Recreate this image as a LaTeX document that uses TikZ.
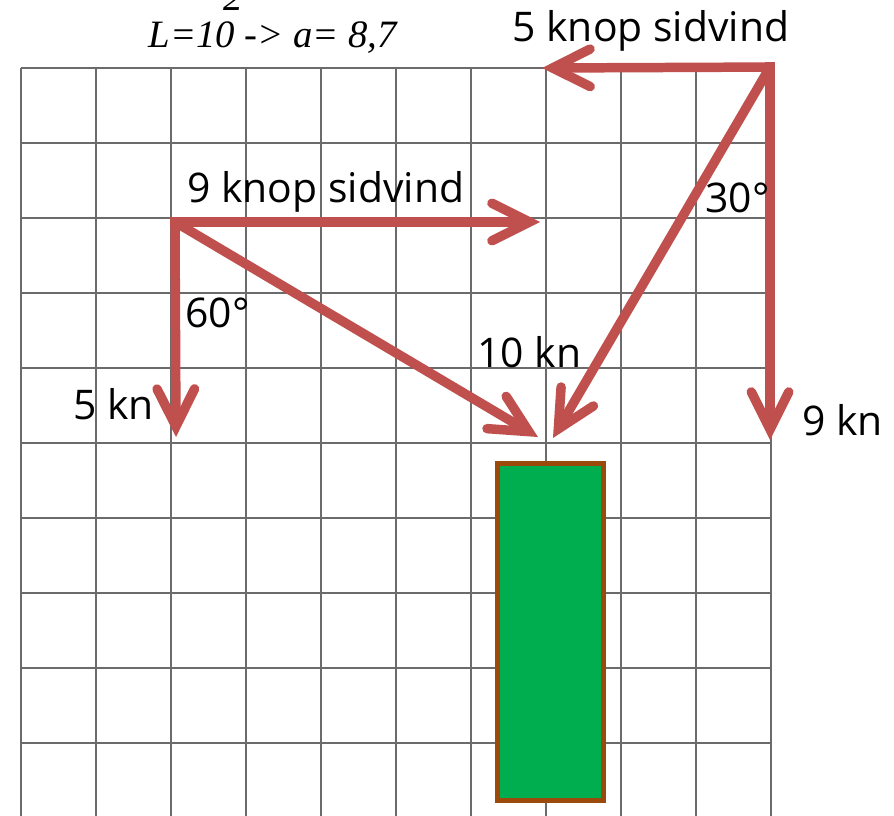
\documentclass[tikz,border=0pt]{standalone}
\usepackage{fontspec}
\setmainfont{Open Sans}
\newfontfamily\titlefont{Liberation Serif}
\usetikzlibrary{arrows.meta}
\definecolor{vecred}{HTML}{C0504D}
\definecolor{boatgreen}{HTML}{00AE4F}
\definecolor{boatbrown}{HTML}{9C4A0C}
\begin{document}
\begin{tikzpicture}[every node/.style={font=\fontsize{15.5}{18}\selectfont, inner sep=0pt},
    vec/.style={vecred, line width=3.6pt,
      -{Straight Barb[length=0.5cm,width=0.5cm,line cap=round,line join=miter]}},
    title/.style={font=\titlefont\itshape\fontsize{14.7}{17}\selectfont}]
  \useasboundingbox (-0.28,0.907) rectangle (11.64,-9.96);
  % grid and boat
  \draw[black!58, line width=0.9pt] (0,0) grid (10,-10);
  \filldraw[fill=boatgreen, draw=boatbrown, line width=1.9pt] (6.347,-5.267) rectangle (7.773,-9.76);
  % vectors
  \coordinate (R) at (9.987,0.013); \coordinate (L) at (2.053,-2.053);
  \coordinate (Rw) at (6.947,0); \coordinate (Rs) at (9.987,-4.96);
  \coordinate (Rd) at (7.093,-4.933);
  \coordinate (Le) at (6.92,-2.053); \coordinate (Ls) at (2.067,-4.92);
  \coordinate (Ld) at (6.893,-4.92);
  \draw[vec, shorten <=-1.8pt] (R)--(Rw);
  \draw[vec, shorten <=-1.8pt] (R)--(Rs);
  \draw[vec] (R)--(Rd);
  \draw[vec, shorten <=-1.8pt] (L)--(Le);
  \draw[vec, shorten <=-1.8pt] (L)--(Ls);
  \draw[vec] (L)--(Ld);
  % labels
  \foreach \nm/\x/\y/\txt in {side5/6.547/0.347/5 knop sidvind, side9/2.213/-1.787/9 knop sidvind,
      ang30/9.12/-1.933/30°, ang60/2.187/-3.453/60°, res10/6.08/-3.987/10 kn,
      head5/0.693/-4.693/5 kn, head9/10.413/-4.893/9 kn}
    \node[anchor=base west] (\nm) at (\x,\y) {\txt};
  \node[title, anchor=base west] (formula) at (1.693,0.28) {L=10 -> a= 8,7};
  \node[title, anchor=base west] (sq) at (2.69,0.773) {2};
\end{tikzpicture}
\end{document}
